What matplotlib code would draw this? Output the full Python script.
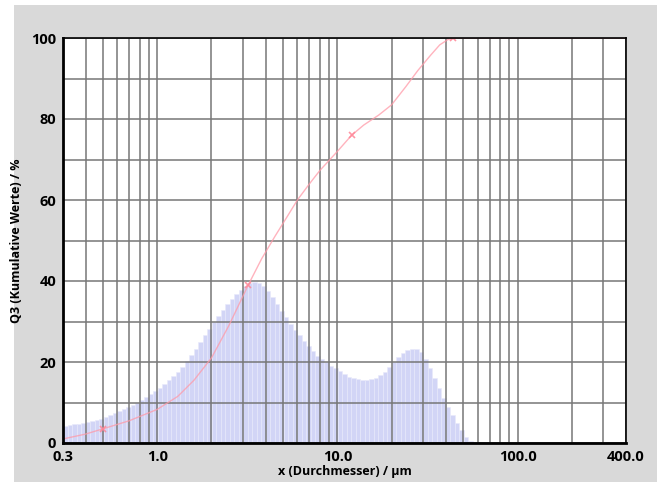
import numpy as np
import matplotlib
matplotlib.use("Agg")
from matplotlib import pyplot as plt
from matplotlib.ticker import LogLocator, NullFormatter
from matplotlib.patches import Rectangle

# size classes: 40 per decade starting at 0.3 um
classStart = 0.3
classesPerDecade = 40

# density per size class (%)
density = [4.2, 4.4, 4.6, 4.8, 5.0, 5.2, 5.4, 5.7, 6.0, 6.4,
           6.8, 7.3, 7.8, 8.3, 8.8, 9.3, 9.9, 10.6, 11.3, 12.1,
           12.9, 13.7, 14.6, 15.5, 16.5, 17.6, 18.8, 20.2, 21.7, 23.3,
           25.0, 26.6, 28.2, 29.8, 31.3, 32.8, 34.2, 35.6, 36.8, 37.9,
           38.8, 39.4, 39.7, 39.5, 38.8, 37.5, 36.0, 34.3, 32.6, 31.0,
           29.5, 28.0, 26.6, 25.2, 23.9, 22.7, 21.6, 20.7, 19.9, 19.1,
           18.4, 17.7, 17.0, 16.4, 16.0, 15.7, 15.5, 15.5, 15.7, 16.1,
           16.7, 17.6, 18.8, 20.0, 21.2, 22.2, 22.9, 23.3, 23.2, 22.4,
           20.8, 18.6, 16.0, 13.5, 11.2, 9.0, 7.0, 5.0, 3.2, 1.5, 0.5]

# cumulative curve Q3
cumX = [0.3, 0.4, 0.5, 0.7, 1.0, 1.3, 1.6, 2.0, 2.5, 3.2, 3.8, 4.5, 5.2, 6.0,
        7.0, 8.0, 10.0, 12.0, 14.0, 17.0, 20.0, 24.0, 28.0, 33.0, 37.0,
        41.0, 44.0, 400.0]
cumY = [1.0, 2.2, 3.5, 5.5, 8.3, 11.5, 15.5, 21.0, 29.0, 39.0, 45.5, 51.0,
        55.5, 60.0, 64.0, 67.3, 72.0, 76.0, 78.5, 81.0, 83.5, 88.0, 92.0,
        95.8, 98.3, 99.6, 100.0, 100.0]
markX = [0.5, 3.2, 12.0, 44.0]
markY = [3.5, 39.0, 76.0, 100.0]

xTicks = [0.3, 1.0, 10.0, 100.0, 400.0]
xTickLabels = ["0.3", "1.0", "10.0", "100.0", "400.0"]
yTicks = [0, 20, 40, 60, 80, 100]

plt.rcParams['font.family'] = ['Open Sans', 'DejaVu Sans']

fig = plt.figure(figsize=(6.59, 4.92), dpi=100)
fig.patch.set_facecolor('white')
fig.patches.append(Rectangle((14/659, 10/492), 643/659, 477/492, transform=fig.transFigure,
                             facecolor='#d9d9d9', edgecolor='none', zorder=-10))

ax = fig.add_axes([63/659, 49/492, 563/659, 405/492])
ax.set_facecolor('white')

edges = classStart * 10 ** (np.arange(len(density) + 1) / classesPerDecade)
ax.bar(edges[:-1], density, width=np.diff(edges), align='edge',
       color='#d2d5f6', edgecolor='#e8e9fb', linewidth=0.4, zorder=1)

ax.set_xscale('log')
ax.set_xlim(0.3, 400)
ax.set_ylim(0, 100)

ax.set_xticks(xTicks)
ax.set_xticklabels(xTickLabels)
ax.xaxis.set_minor_locator(LogLocator(base=10, subs=np.arange(2, 10)))
ax.xaxis.set_minor_formatter(NullFormatter())
ax.set_yticks(yTicks)
ax.yaxis.set_minor_locator(matplotlib.ticker.MultipleLocator(10))

ax.grid(which='both', color='#777777', linewidth=1.3, alpha=0.85, zorder=2)
ax.set_axisbelow(False)

ax.plot(cumX, cumY, color='#ff9aa8', linewidth=1.0, alpha=0.75, zorder=3)
ax.plot(markX, markY, linestyle='none', marker='x', markersize=5,
        markeredgewidth=1.2, color='#ff8596', alpha=0.85, zorder=4)

ax.tick_params(which='both', length=0, labelsize=10.5, pad=5)
for lab in ax.get_xticklabels() + ax.get_yticklabels():
    lab.set_fontweight('bold')

for s in ax.spines.values():
    s.set_color('black')
    s.set_linewidth(1.2)
    s.set_zorder(5)
ax.spines['left'].set_linewidth(2)
ax.spines['bottom'].set_linewidth(2)

ax.set_xlabel('x (Durchmesser) / µm', fontsize=9, fontweight='bold', labelpad=1)
ax.set_ylabel('Q3 (Kumulative Werte) / %', fontsize=9, fontweight='bold', labelpad=6)

plt.savefig('out.png', dpi=100)
